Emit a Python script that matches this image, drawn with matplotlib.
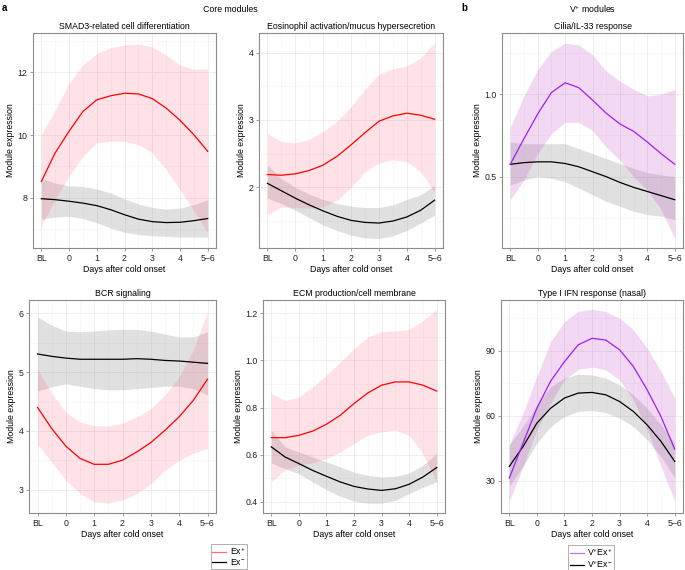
import numpy as np
import matplotlib.pyplot as plt
from matplotlib.lines import Line2D

plt.rcParams['font.family'] = ['Liberation Sans', 'DejaVu Sans']
plt.rcParams['mathtext.default'] = 'regular'
plt.rcParams['font.size'] = 6.3

# time axis: BL, 0, 1, 2, 3, 4, 5-6 (read at half steps)
x = np.arange(13) / 2
tick_pos = np.arange(7)
tick_labels = ['BL', '0', '1', '2', '3', '4', '5–6']

# --- SMAD3-related cell differentiation ---
smad_pos = [8.52, 9.43, 10.12, 10.75, 11.12, 11.25, 11.33, 11.31, 11.16, 10.86, 10.47, 10.01, 9.48]
smad_pos_up = [10.01, 10.8, 11.65, 12.23, 12.6, 12.78, 12.87, 12.9, 12.81, 12.55, 12.23, 12.1, 12.1]
smad_pos_lo = [7.1, 7.95, 8.69, 9.32, 9.75, 9.8, 9.8, 9.69, 9.43, 8.9, 8.26, 7.58, 6.89]
smad_neg = [7.97, 7.94, 7.89, 7.83, 7.75, 7.62, 7.46, 7.32, 7.24, 7.21, 7.22, 7.27, 7.34]
smad_neg_up = [8.62, 8.47, 8.38, 8.36, 8.28, 8.15, 7.96, 7.8, 7.69, 7.64, 7.67, 7.78, 7.94]
smad_neg_lo = [7.32, 7.39, 7.41, 7.34, 7.2, 7.04, 6.9, 6.83, 6.79, 6.77, 6.75, 6.75, 6.75]

# --- Eosinophil activation/mucus hypersecretion ---
eos_pos = [2.19, 2.18, 2.2, 2.25, 2.33, 2.46, 2.63, 2.81, 2.98, 3.06, 3.1, 3.07, 3.01]
eos_pos_up = [2.8, 2.68, 2.66, 2.71, 2.83, 2.98, 3.2, 3.45, 3.68, 3.76, 3.8, 3.92, 4.15]
eos_pos_lo = [1.59, 1.71, 1.7, 1.69, 1.71, 1.81, 2.0, 2.23, 2.36, 2.41, 2.38, 2.23, 1.93]
eos_neg = [2.06, 1.95, 1.84, 1.74, 1.65, 1.57, 1.51, 1.48, 1.47, 1.5, 1.56, 1.66, 1.81]
eos_neg_up = [2.33, 2.13, 2.0, 1.9, 1.82, 1.76, 1.72, 1.7, 1.7, 1.74, 1.82, 1.89, 2.03]
eos_neg_lo = [1.84, 1.76, 1.66, 1.55, 1.44, 1.36, 1.29, 1.25, 1.24, 1.28, 1.36, 1.47, 1.59]

# --- Cilia/IL-33 response ---
cil_pos = [0.575, 0.73, 0.88, 1.01, 1.07, 1.04, 0.965, 0.885, 0.82, 0.775, 0.71, 0.64, 0.575]
cil_pos_up = [0.8, 0.99, 1.15, 1.26, 1.31, 1.3, 1.24, 1.14, 1.08, 1.03, 0.99, 1.0, 1.03]
cil_pos_lo = [0.36, 0.48, 0.64, 0.76, 0.83, 0.83, 0.78, 0.68, 0.6, 0.5, 0.42, 0.3, 0.125]
cil_neg = [0.575, 0.585, 0.59, 0.59, 0.58, 0.56, 0.53, 0.5, 0.465, 0.435, 0.41, 0.385, 0.36]
cil_neg_up = [0.71, 0.7, 0.7, 0.7, 0.7, 0.67, 0.64, 0.61, 0.58, 0.55, 0.525, 0.51, 0.5]
cil_neg_lo = [0.45, 0.48, 0.5, 0.49, 0.47, 0.43, 0.39, 0.35, 0.32, 0.29, 0.27, 0.26, 0.24]

# --- BCR signaling ---
bcr_pos = [4.4, 4.04, 3.74, 3.53, 3.43, 3.43, 3.5, 3.64, 3.8, 4.01, 4.24, 4.52, 4.88]
bcr_pos_up = [5.05, 4.64, 4.32, 4.15, 4.09, 4.08, 4.13, 4.24, 4.38, 4.61, 4.92, 5.38, 6.03]
bcr_pos_lo = [3.77, 3.47, 3.16, 2.93, 2.79, 2.77, 2.82, 2.93, 3.1, 3.33, 3.5, 3.62, 3.7]
bcr_neg = [5.31, 5.27, 5.24, 5.22, 5.22, 5.22, 5.22, 5.23, 5.22, 5.2, 5.19, 5.17, 5.15]
bcr_neg_up = [5.94, 5.8, 5.7, 5.69, 5.7, 5.72, 5.73, 5.73, 5.7, 5.65, 5.6, 5.6, 5.69]
bcr_neg_lo = [4.68, 4.75, 4.8, 4.76, 4.72, 4.7, 4.7, 4.72, 4.74, 4.76, 4.76, 4.72, 4.61]

# --- ECM production/cell membrane ---
ecm_pos = [0.672, 0.672, 0.682, 0.70, 0.729, 0.767, 0.817, 0.862, 0.895, 0.909, 0.909, 0.895, 0.87]
ecm_pos_up = [0.86, 0.83, 0.845, 0.888, 0.938, 0.994, 1.051, 1.1, 1.122, 1.126, 1.132, 1.17, 1.217]
ecm_pos_lo = [0.484, 0.536, 0.555, 0.565, 0.583, 0.611, 0.647, 0.682, 0.697, 0.704, 0.682, 0.604, 0.484]
ecm_neg = [0.633, 0.59, 0.562, 0.533, 0.508, 0.484, 0.465, 0.454, 0.448, 0.455, 0.474, 0.505, 0.545]
ecm_neg_up = [0.704, 0.633, 0.611, 0.59, 0.569, 0.548, 0.526, 0.512, 0.505, 0.508, 0.522, 0.555, 0.604]
ecm_neg_lo = [0.565, 0.54, 0.519, 0.484, 0.451, 0.423, 0.403, 0.394, 0.394, 0.406, 0.434, 0.462, 0.484]

# --- Type I IFN response (nasal) ---
ifn_pos = [31.2, 47.4, 63.5, 76.0, 85.0, 92.8, 95.8, 95.0, 90.5, 82.8, 72.0, 59.7, 44.6]
ifn_pos_up = [46.6, 61.2, 78.2, 94.3, 103.5, 108.2, 109.2, 108.2, 105.0, 99.7, 91.2, 80.5, 68.2]
ifn_pos_lo = [20.5, 36.6, 53.5, 65.8, 76.6, 81.5, 82.5, 81.2, 76.6, 67.4, 53.5, 36.6, 20.5]
ifn_neg = [36.6, 45.8, 56.6, 63.5, 68.2, 70.5, 70.8, 69.7, 66.6, 62.0, 55.8, 48.2, 38.9]
ifn_neg_up = [46.6, 55.0, 65.0, 73.5, 77.4, 79.2, 78.9, 77.4, 74.3, 69.7, 63.5, 55.8, 47.4]
ifn_neg_lo = [27.4, 36.6, 47.4, 55.0, 59.7, 62.0, 62.5, 61.5, 58.9, 55.0, 48.9, 41.2, 31.2]

RED, PURPLE, BLACK = '#FF0000', '#A020F0', '#000000'
RED_FILL, PURPLE_FILL, GRAY_FILL = ('#FF3355', 0.14), ('#C040C0', 0.2), ('#999999', 0.3)


def draw_panel(ax, title, pos, pos_lo, pos_up, neg, neg_lo, neg_up,
               line_col, fill, ylim, yticks, fmt):
    ax.fill_between(x, neg_lo, neg_up, color=GRAY_FILL[0], alpha=GRAY_FILL[1], lw=0)
    ax.fill_between(x, pos_lo, pos_up, color=fill[0], alpha=fill[1], lw=0)
    ax.plot(x, neg, color=BLACK, lw=0.9)
    ax.plot(x, pos, color=line_col, lw=0.9)
    ax.set_xlim(-0.3, 6.3)
    ax.set_xticks(tick_pos)
    ax.set_xticklabels(tick_labels)
    ax.set_xticks(np.arange(0.5, 6, 1), minor=True)
    ax.set_yticks(yticks)
    step = yticks[1] - yticks[0]
    ax.set_yticks(np.arange(yticks[0] - step / 2, ylim[1], step), minor=True)
    ax.set_ylim(*ylim)
    ax.yaxis.set_major_formatter(plt.FormatStrFormatter(fmt))
    ax.grid(which='major', color='#EBEBEB', lw=0.6)
    ax.grid(which='minor', color='#F4F4F4', lw=0.4)
    ax.set_axisbelow(True)
    for s in ax.spines.values():
        s.set_color('#8C8C8C')
        s.set_linewidth(0.8)
    ax.tick_params(which='major', length=2.5, width=0.6, color='#8C8C8C',
                   pad=1.5, labelsize=6.3, labelcolor='#222222')
    ax.tick_params(which='minor', length=0)
    ax.set_title(title, fontsize=6.3, pad=3)
    ax.set_xlabel('Days after cold onset', fontsize=6.3, labelpad=2)
    ax.set_ylabel('Module expression', fontsize=6.3, labelpad=1.5)


fig = plt.figure(figsize=(6.85, 5.7), dpi=100)
W, H = 685, 570


def add_ax(left, right, top, bottom):
    return fig.add_axes([left / W, 1 - bottom / H, (right - left) / W, (bottom - top) / H])


ax1 = add_ax(33, 216, 33, 248)
ax2 = add_ax(259, 443, 33, 248)
ax3 = add_ax(502, 683, 33, 248)
ax4 = add_ax(29, 216, 300, 513)
ax5 = add_ax(263, 445, 300, 513)
ax6 = add_ax(501, 683, 300, 513)

draw_panel(ax1, 'SMAD3-related cell differentiation', smad_pos, smad_pos_lo, smad_pos_up,
           smad_neg, smad_neg_lo, smad_neg_up, RED, RED_FILL, (6.4, 13.25), [8, 10, 12], '%d')
draw_panel(ax2, 'Eosinophil activation/mucus hypersecretion', eos_pos, eos_pos_lo, eos_pos_up,
           eos_neg, eos_neg_lo, eos_neg_up, RED, RED_FILL, (1.1, 4.29), [2, 3, 4], '%d')
draw_panel(ax3, 'Cilia/IL-33 response', cil_pos, cil_pos_lo, cil_pos_up,
           cil_neg, cil_neg_lo, cil_neg_up, PURPLE, PURPLE_FILL, (0.067, 1.372), [0.5, 1.0], '%.1f')
draw_panel(ax4, 'BCR signaling', bcr_pos, bcr_pos_lo, bcr_pos_up,
           bcr_neg, bcr_neg_lo, bcr_neg_up, RED, RED_FILL, (2.6, 6.23), [3, 4, 5, 6], '%d')
draw_panel(ax5, 'ECM production/cell membrane', ecm_pos, ecm_pos_lo, ecm_pos_up,
           ecm_neg, ecm_neg_lo, ecm_neg_up, RED, RED_FILL, (0.352, 1.257),
           [0.4, 0.6, 0.8, 1.0, 1.2], '%.1f')
draw_panel(ax6, 'Type I IFN response (nasal)', ifn_pos, ifn_pos_lo, ifn_pos_up,
           ifn_neg, ifn_neg_lo, ifn_neg_up, PURPLE, PURPLE_FILL, (15.1, 113.5), [30, 60, 90], '%d')

# panel headings
fig.text(2 / W, 1 - 8 / H, 'a', fontsize=7, fontweight='bold', va='center')
fig.text(230 / W, 1 - 9 / H, 'Core modules', fontsize=6.3, ha='center', va='center')
fig.text(461 / W, 1 - 8 / H, 'b', fontsize=7, fontweight='bold', va='center')
fig.text(592 / W, 1 - 9 / H, 'V$^{+}$ modules', fontsize=6.3, ha='center', va='center')

# legends
leg_kw = dict(loc='center', fontsize=6.3, frameon=True, fancybox=False, edgecolor='#8C8C8C',
              handlelength=1.6, handletextpad=0.4, labelspacing=0.0, borderpad=0.2,
              borderaxespad=0)
core_handles = [Line2D([], [], color='#FF7070', lw=0.9), Line2D([], [], color=BLACK, lw=0.9)]
leg1 = fig.legend(core_handles, ['Ex$^{+}$', 'Ex$^{-}$'],
                  bbox_to_anchor=(229 / W, 1 - 556.5 / H), **leg_kw)
leg1.get_frame().set_linewidth(0.6)
v_handles = [Line2D([], [], color='#C070F0', lw=0.9), Line2D([], [], color=BLACK, lw=0.9)]
leg2 = fig.legend(v_handles, ['V$^{+}$Ex$^{+}$', 'V$^{+}$Ex$^{-}$'],
                  bbox_to_anchor=(591 / W, 1 - 558 / H), **leg_kw)
leg2.get_frame().set_linewidth(0.6)

plt.savefig('out.png', dpi=100)
